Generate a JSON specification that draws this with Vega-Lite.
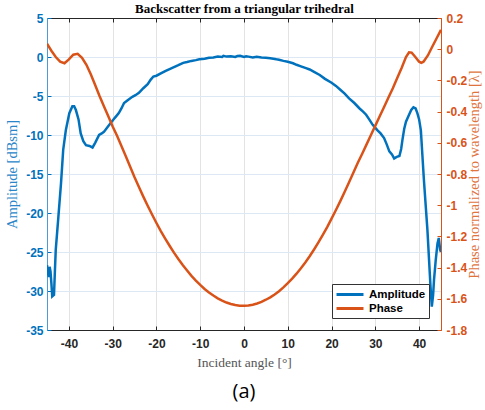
{
  "$schema": "https://vega.github.io/schema/vega-lite/v6.json",
  "width": 394,
  "height": 312,
  "autosize": "none",
  "padding": {"left": 47, "top": 18, "right": 44, "bottom": 80},
  "background": "white",
  "config": {
    "view": {"stroke": null},
    "axis": {"labelFont": "Liberation Sans", "labelFontWeight": "bold", "labelFontSize": 12, "titleFont": "Liberation Serif", "titleFontWeight": "normal", "tickWidth": 1, "domainWidth": 1}
  },
  "title": {"text": "(a)", "orient": "bottom", "font": "Open Sans", "fontSize": 20, "fontWeight": "normal", "color": "#000000", "offset": 13, "anchor": "middle"},
  "datasets": {
    "amp": [
      {"angle": -45, "dBsm": -26.7}, {"angle": -44.8, "dBsm": -27.6}, {"angle": -44.6, "dBsm": -28.2}, {"angle": -44.4, "dBsm": -26.9},
      {"angle": -44.2, "dBsm": -27.5}, {"angle": -44.0, "dBsm": -29.0}, {"angle": -43.8, "dBsm": -30.7}, {"angle": -43.6, "dBsm": -30.6},
      {"angle": -43.4, "dBsm": -30.5}, {"angle": -43.2, "dBsm": -27.5}, {"angle": -43.0, "dBsm": -24.7}, {"angle": -42.4, "dBsm": -20.5},
      {"angle": -41.8, "dBsm": -16.2}, {"angle": -41.3, "dBsm": -11.9}, {"angle": -40.7, "dBsm": -9.4}, {"angle": -39.9, "dBsm": -7.2},
      {"angle": -39.2, "dBsm": -6.3}, {"angle": -38.8, "dBsm": -6.3}, {"angle": -38.4, "dBsm": -6.8}, {"angle": -37.8, "dBsm": -8.0},
      {"angle": -37.3, "dBsm": -9.8}, {"angle": -36.7, "dBsm": -10.8}, {"angle": -36.1, "dBsm": -11.3}, {"angle": -35.3, "dBsm": -11.4},
      {"angle": -34.6, "dBsm": -11.6}, {"angle": -34.0, "dBsm": -11.0}, {"angle": -33.1, "dBsm": -10.0}, {"angle": -32.5, "dBsm": -9.8},
      {"angle": -32.0, "dBsm": -9.6}, {"angle": -31.2, "dBsm": -9.0}, {"angle": -30.5, "dBsm": -8.5}, {"angle": -29.5, "dBsm": -7.8},
      {"angle": -28.6, "dBsm": -7.2}, {"angle": -28.0, "dBsm": -6.6}, {"angle": -27.4, "dBsm": -5.9}, {"angle": -26.5, "dBsm": -5.5},
      {"angle": -25.5, "dBsm": -5.1}, {"angle": -24.8, "dBsm": -4.9}, {"angle": -24.0, "dBsm": -4.6}, {"angle": -23.0, "dBsm": -4.0},
      {"angle": -22.0, "dBsm": -3.5}, {"angle": -21.3, "dBsm": -2.9}, {"angle": -20.7, "dBsm": -2.5}, {"angle": -20.0, "dBsm": -2.4},
      {"angle": -19.0, "dBsm": -2.1}, {"angle": -18.0, "dBsm": -1.8}, {"angle": -17.0, "dBsm": -1.55}, {"angle": -16.0, "dBsm": -1.3},
      {"angle": -15.0, "dBsm": -1.05}, {"angle": -13.9, "dBsm": -0.75}, {"angle": -13.0, "dBsm": -0.65}, {"angle": -12.0, "dBsm": -0.5},
      {"angle": -11.0, "dBsm": -0.4}, {"angle": -10.2, "dBsm": -0.3}, {"angle": -9.0, "dBsm": -0.22}, {"angle": -8.0, "dBsm": -0.1},
      {"angle": -7.0, "dBsm": -0.05}, {"angle": -6.0, "dBsm": 0.05}, {"angle": -5.0, "dBsm": 0.0}, {"angle": -4.7, "dBsm": 0.15},
      {"angle": -4.0, "dBsm": 0.05}, {"angle": -3.0, "dBsm": 0.1}, {"angle": -2.0, "dBsm": 0.0}, {"angle": -1.5, "dBsm": 0.12},
      {"angle": -0.9, "dBsm": 0.15}, {"angle": 0.0, "dBsm": 0.0}, {"angle": 0.5, "dBsm": 0.1}, {"angle": 1.0, "dBsm": 0.05},
      {"angle": 2.0, "dBsm": -0.05}, {"angle": 2.9, "dBsm": 0.04}, {"angle": 4.0, "dBsm": -0.05}, {"angle": 5.0, "dBsm": -0.1},
      {"angle": 6.0, "dBsm": -0.15}, {"angle": 7.4, "dBsm": -0.3}, {"angle": 8.0, "dBsm": -0.35}, {"angle": 9.0, "dBsm": -0.5},
      {"angle": 10.0, "dBsm": -0.6}, {"angle": 11.2, "dBsm": -0.8}, {"angle": 12.0, "dBsm": -1.0}, {"angle": 13.0, "dBsm": -1.2},
      {"angle": 14.0, "dBsm": -1.4}, {"angle": 15.0, "dBsm": -1.6}, {"angle": 16.0, "dBsm": -1.9}, {"angle": 17.3, "dBsm": -2.3},
      {"angle": 18.5, "dBsm": -2.8}, {"angle": 20.0, "dBsm": -3.3}, {"angle": 21.0, "dBsm": -3.7}, {"angle": 22.0, "dBsm": -4.2},
      {"angle": 23.0, "dBsm": -4.7}, {"angle": 24.0, "dBsm": -5.3}, {"angle": 25.2, "dBsm": -5.9}, {"angle": 26.4, "dBsm": -6.6},
      {"angle": 27.2, "dBsm": -7.0}, {"angle": 27.9, "dBsm": -7.4}, {"angle": 28.6, "dBsm": -8.0}, {"angle": 29.4, "dBsm": -8.7},
      {"angle": 30.5, "dBsm": -9.4}, {"angle": 31.2, "dBsm": -9.8}, {"angle": 32.0, "dBsm": -10.4}, {"angle": 32.6, "dBsm": -11.2},
      {"angle": 33.2, "dBsm": -12.1}, {"angle": 33.8, "dBsm": -12.5}, {"angle": 34.3, "dBsm": -13.0}, {"angle": 34.9, "dBsm": -12.8},
      {"angle": 35.5, "dBsm": -12.7}, {"angle": 35.9, "dBsm": -11.8}, {"angle": 36.2, "dBsm": -10.6}, {"angle": 36.6, "dBsm": -9.2},
      {"angle": 37.0, "dBsm": -8.3}, {"angle": 37.7, "dBsm": -7.4}, {"angle": 38.2, "dBsm": -6.8}, {"angle": 38.7, "dBsm": -6.45},
      {"angle": 39.2, "dBsm": -6.6}, {"angle": 39.6, "dBsm": -7.2}, {"angle": 40.0, "dBsm": -8.0}, {"angle": 40.4, "dBsm": -9.4},
      {"angle": 41.1, "dBsm": -15.8}, {"angle": 41.9, "dBsm": -22.2}, {"angle": 42.6, "dBsm": -29.4}, {"angle": 42.9, "dBsm": -32.0},
      {"angle": 43.2, "dBsm": -30.5}, {"angle": 43.4, "dBsm": -28.6}, {"angle": 43.8, "dBsm": -26.0}, {"angle": 44.2, "dBsm": -23.9},
      {"angle": 44.5, "dBsm": -23.2}, {"angle": 44.8, "dBsm": -24.7}, {"angle": 45.0, "dBsm": -25.0}
    ],
    "phase": [
      {"angle": -45, "lambda": 0.035}, {"angle": -44, "lambda": -0.01}, {"angle": -43, "lambda": -0.05}, {"angle": -42, "lambda": -0.08},
      {"angle": -41, "lambda": -0.09}, {"angle": -40, "lambda": -0.065}, {"angle": -39, "lambda": -0.035}, {"angle": -38, "lambda": -0.03},
      {"angle": -37, "lambda": -0.055}, {"angle": -36, "lambda": -0.1}, {"angle": -35, "lambda": -0.16}, {"angle": -34, "lambda": -0.23},
      {"angle": -33, "lambda": -0.3}, {"angle": -32, "lambda": -0.365}, {"angle": -31, "lambda": -0.43}, {"angle": -30, "lambda": -0.495},
      {"angle": -29, "lambda": -0.555}, {"angle": -28, "lambda": -0.62}, {"angle": -27, "lambda": -0.686}, {"angle": -26, "lambda": -0.754},
      {"angle": -25, "lambda": -0.821}, {"angle": -24, "lambda": -0.884}, {"angle": -23, "lambda": -0.945}, {"angle": -22, "lambda": -1.004},
      {"angle": -21, "lambda": -1.06}, {"angle": -20, "lambda": -1.114}, {"angle": -19, "lambda": -1.166}, {"angle": -18, "lambda": -1.214},
      {"angle": -17, "lambda": -1.26}, {"angle": -16, "lambda": -1.304}, {"angle": -15, "lambda": -1.345}, {"angle": -14, "lambda": -1.384},
      {"angle": -13, "lambda": -1.419}, {"angle": -12, "lambda": -1.453}, {"angle": -11, "lambda": -1.483}, {"angle": -10, "lambda": -1.511},
      {"angle": -9, "lambda": -1.537}, {"angle": -8, "lambda": -1.559}, {"angle": -7, "lambda": -1.579}, {"angle": -6, "lambda": -1.597},
      {"angle": -5, "lambda": -1.611}, {"angle": -4, "lambda": -1.624}, {"angle": -3, "lambda": -1.633}, {"angle": -2, "lambda": -1.64},
      {"angle": -1, "lambda": -1.644}, {"angle": 0, "lambda": -1.645}, {"angle": 1, "lambda": -1.643}, {"angle": 2, "lambda": -1.638},
      {"angle": 3, "lambda": -1.63}, {"angle": 4, "lambda": -1.62}, {"angle": 5, "lambda": -1.606}, {"angle": 6, "lambda": -1.591},
      {"angle": 7, "lambda": -1.572}, {"angle": 8, "lambda": -1.551}, {"angle": 9, "lambda": -1.527}, {"angle": 10, "lambda": -1.5},
      {"angle": 11, "lambda": -1.471}, {"angle": 12, "lambda": -1.439}, {"angle": 13, "lambda": -1.404}, {"angle": 14, "lambda": -1.367},
      {"angle": 15, "lambda": -1.327}, {"angle": 16, "lambda": -1.284}, {"angle": 17, "lambda": -1.238}, {"angle": 18, "lambda": -1.19},
      {"angle": 19, "lambda": -1.14}, {"angle": 20, "lambda": -1.086}, {"angle": 21, "lambda": -1.031}, {"angle": 22, "lambda": -0.974},
      {"angle": 23, "lambda": -0.914}, {"angle": 24, "lambda": -0.853}, {"angle": 25, "lambda": -0.79}, {"angle": 26, "lambda": -0.728},
      {"angle": 27, "lambda": -0.67}, {"angle": 28, "lambda": -0.61}, {"angle": 29, "lambda": -0.55}, {"angle": 30, "lambda": -0.49},
      {"angle": 31, "lambda": -0.43}, {"angle": 32, "lambda": -0.37}, {"angle": 33, "lambda": -0.31}, {"angle": 34, "lambda": -0.25},
      {"angle": 35, "lambda": -0.185}, {"angle": 36, "lambda": -0.12}, {"angle": 37, "lambda": -0.05}, {"angle": 37.7, "lambda": -0.02},
      {"angle": 38.3, "lambda": -0.022}, {"angle": 39, "lambda": -0.045}, {"angle": 40, "lambda": -0.08}, {"angle": 40.5, "lambda": -0.088},
      {"angle": 41, "lambda": -0.08}, {"angle": 42, "lambda": -0.04}, {"angle": 43, "lambda": 0.016}, {"angle": 44, "lambda": 0.07},
      {"angle": 45, "lambda": 0.125}
    ]
  },
  "layer": [
    {
      "data": {"name": "amp"},
      "mark": {"type": "line", "strokeWidth": 2.5, "clip": true},
      "encoding": {
        "x": {
          "field": "angle", "type": "quantitative",
          "scale": {"domain": [-45, 45], "nice": false, "zero": false},
          "axis": {"orient": "bottom", "values": [-40, -30, -20, -10, 0, 10, 20, 30, 40], "title": "Incident angle [°]", "titleFontSize": 13.5, "titleColor": "#555555", "titlePadding": 6, "labelColor": "#262626", "labelPadding": 12, "labelExpr": "replace(datum.label, '\u2212', '-')", "tickSize": -4, "tickColor": "#262626", "domainColor": "#262626", "grid": true, "gridColor": "#e3e3e3", "gridWidth": 1}
        },
        "y": {
          "field": "dBsm", "type": "quantitative",
          "scale": {"domain": [-35, 5], "nice": false, "zero": false},
          "axis": {"orient": "left", "values": [-35, -30, -25, -20, -15, -10, -5, 0, 5], "title": "Amplitude [dBsm]", "titleFontSize": 14.5, "titleColor": "#2a86c8", "titlePadding": 6, "labelColor": "#0072BD", "labelPadding": 8, "labelExpr": "replace(datum.label, '\u2212', '-')", "tickSize": -4, "tickColor": "#0072BD", "domainColor": "#4a9bd8", "grid": true, "gridColor": "#dce9f5", "gridWidth": 1}
        },
        "color": {
          "datum": "Amplitude", "type": "nominal",
          "scale": {"domain": ["Amplitude", "Phase"], "range": ["#0072BD", "#D95319"]},
          "legend": {"title": null, "orient": "bottom-right", "offset": 12, "strokeColor": "#333333", "fillColor": "white", "padding": 3, "labelFont": "Liberation Sans", "labelFontWeight": "bold", "labelFontSize": 11.5, "labelColor": "#000000", "symbolType": "M-1,0H3.5", "symbolStrokeWidth": 3, "symbolSize": 144, "rowPadding": 0, "labelOffset": 19}
        }
      }
    },
    {
      "data": {"name": "phase"},
      "mark": {"type": "line", "strokeWidth": 2.5, "clip": true},
      "encoding": {
        "x": {
          "field": "angle", "type": "quantitative",
          "axis": {"orient": "top", "values": [-40, -30, -20, -10, 0, 10, 20, 30, 40], "labels": false, "title": "Backscatter from a triangular trihedral", "titleFont": "Liberation Serif", "titleFontWeight": "bold", "titleFontSize": 13, "titleColor": "#000000", "titlePadding": 2, "tickSize": -4, "tickColor": "#262626", "domainColor": "#262626", "grid": false}
        },
        "y": {
          "field": "lambda", "type": "quantitative",
          "scale": {"domain": [-1.8, 0.2], "nice": false, "zero": false},
          "axis": {"orient": "right", "values": [-1.8, -1.6, -1.4, -1.2, -1, -0.8, -0.6, -0.4, -0.2, 0, 0.2], "format": "~g", "title": "Phase normalized to wavelength [λ]", "titleAngle": 270, "titleFontSize": 14.5, "titleColor": "#e0743f", "titlePadding": 15, "labelColor": "#D95319", "labelPadding": 9, "labelExpr": "replace(datum.label, '\u2212', '-')", "tickSize": -4, "tickColor": "#D95319", "domainColor": "#D95319", "grid": false}
        },
        "color": {"datum": "Phase", "type": "nominal"}
      }
    }
  ],
  "resolve": {"scale": {"y": "independent"}, "axis": {"x": "independent", "y": "independent"}}
}
